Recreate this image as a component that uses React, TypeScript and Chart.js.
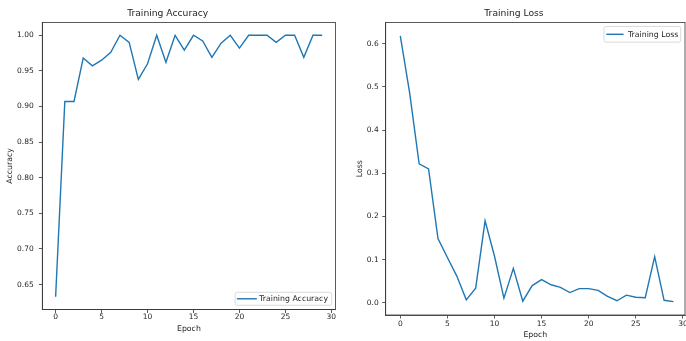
import React, { useEffect, useRef } from "react";
import { Chart, registerables } from "chart.js";

Chart.register(...registerables);

// ---- data ----
const epochs = [0, 1, 2, 3, 4, 5, 6, 7, 8, 9, 10, 11, 12, 13, 14, 15, 16, 17, 18, 19, 20, 21, 22, 23, 24, 25, 26, 27, 28, 29];
const accuracy = [0.633, 0.907, 0.907, 0.968, 0.957, 0.965, 0.976, 1.0, 0.99, 0.938, 0.96, 1.0, 0.962, 1.0, 0.979, 1.0, 0.992, 0.969, 0.989, 1.0, 0.982, 1.0, 1.0, 1.0, 0.99, 1.0, 1.0, 0.969, 1.0, 1.0];
const loss = [0.618, 0.485, 0.322, 0.31, 0.149, 0.105, 0.062, 0.007, 0.034, 0.19, 0.108, 0.011, 0.08, 0.004, 0.04, 0.054, 0.042, 0.036, 0.024, 0.033, 0.033, 0.029, 0.015, 0.005, 0.018, 0.013, 0.012, 0.107, 0.006, 0.003];
const epochTicks = [0, 5, 10, 15, 20, 25, 30];
const accuracyTicks = [0.65, 0.7, 0.75, 0.8, 0.85, 0.9, 0.95, 1.0];
const lossTicks = [0.0, 0.1, 0.2, 0.3, 0.4, 0.5, 0.6];

const FONT = "'DejaVu Sans', sans-serif";
const LINE_COLOR = "#1f77b4";
const TEXT_COLOR = "#262626";
const AXIS_COLOR = "#333333";

const framePlugin = {
  id: "frame",
  afterDraw(chart: any) {
    const { ctx, chartArea } = chart;
    ctx.save();
    ctx.strokeStyle = AXIS_COLOR;
    ctx.lineWidth = 0.8;
    ctx.strokeRect(chartArea.left, chartArea.top, chartArea.right - chartArea.left, chartArea.bottom - chartArea.top);
    ctx.restore();
  },
};

const boxLegendPlugin = {
  id: "boxLegend",
  afterDatasetsDraw(chart: any, _args: any, opts: any) {
    const { ctx, chartArea } = chart;
    const ds = chart.data.datasets[0];
    ctx.save();
    ctx.font = `${opts.fontSize}px ${FONT}`;
    const tw = ctx.measureText(ds.label).width;
    const w = opts.padL + opts.lineLen + opts.gap + tw + opts.padR;
    const h = opts.height;
    const x = chartArea.right - opts.marginX - w;
    const y = opts.corner === "lower" ? chartArea.bottom - opts.marginY - h : chartArea.top + opts.marginY;
    ctx.beginPath();
    if ((ctx as any).roundRect) (ctx as any).roundRect(x, y, w, h, 2);
    else ctx.rect(x, y, w, h);
    ctx.fillStyle = "rgba(255,255,255,0.8)";
    ctx.fill();
    ctx.strokeStyle = "#d0d0d0";
    ctx.lineWidth = 0.8;
    ctx.stroke();
    ctx.beginPath();
    ctx.strokeStyle = ds.borderColor;
    ctx.lineWidth = 1.4;
    ctx.moveTo(x + opts.padL, y + h / 2);
    ctx.lineTo(x + opts.padL + opts.lineLen, y + h / 2);
    ctx.stroke();
    ctx.fillStyle = TEXT_COLOR;
    ctx.textBaseline = "middle";
    ctx.textAlign = "left";
    ctx.fillText(ds.label, x + opts.padL + opts.lineLen + opts.gap, y + h / 2 + 0.5);
    ctx.restore();
  },
};

type Cfg = {
  title: string;
  yLabel: string;
  label: string;
  values: number[];
  yTicks: number[];
  decimals: number;
  yMin: number;
  yMax: number;
  xMin: number;
  xMax: number;
  yWidth: number;
  xHeight: number;
  rightPad: number;
  yTickPad: number;
  xTickPad: number;
  yTitlePad: number;
  xTitlePad: number;
  legend: any;
};

function makeConfig(c: Cfg): any {
  return {
    type: "line",
    data: {
      datasets: [
        {
          label: c.label,
          data: epochs.map((e, i) => ({ x: e, y: c.values[i] })),
          borderColor: LINE_COLOR,
          backgroundColor: LINE_COLOR,
          borderWidth: 1.4,
          pointRadius: 0,
          tension: 0,
          fill: false,
        },
      ],
    },
    options: {
      responsive: false,
      animation: false,
      layout: { padding: { left: 0, right: c.rightPad, top: 0, bottom: 0 } },
      plugins: {
        legend: { display: false },
        tooltip: { enabled: false },
        title: {
          display: true,
          text: c.title,
          color: TEXT_COLOR,
          font: { family: FONT, size: 9.2, weight: "normal", lineHeight: 1.2 },
          padding: { top: 8, bottom: 3.4 },
        },
        boxLegend: c.legend,
      },
      scales: {
        x: {
          type: "linear",
          min: c.xMin,
          max: c.xMax,
          afterBuildTicks: (s: any) => {
            s.ticks = epochTicks.map((v) => ({ value: v }));
          },
          afterFit: (s: any) => {
            s.height = c.xHeight;
            s.paddingLeft = 0;
            s.paddingRight = 0;
          },
          ticks: {
            color: TEXT_COLOR,
            font: { family: FONT, size: 7.5 },
            padding: c.xTickPad,
            maxRotation: 0,
            autoSkip: false,
            callback: (v: any) => String(v),
          },
          grid: { drawOnChartArea: false, drawTicks: true, tickLength: 3.5, color: AXIS_COLOR, lineWidth: 0.8 },
          border: { display: true, color: AXIS_COLOR, width: 0.8 },
          title: {
            display: true,
            text: "Epoch",
            color: TEXT_COLOR,
            font: { family: FONT, size: 7.8 },
            padding: { top: 0, bottom: c.xTitlePad },
          },
        },
        y: {
          type: "linear",
          min: c.yMin,
          max: c.yMax,
          afterBuildTicks: (s: any) => {
            s.ticks = c.yTicks.map((v) => ({ value: v }));
          },
          afterFit: (s: any) => {
            s.width = c.yWidth;
            s.paddingTop = 0;
            s.paddingBottom = 0;
          },
          ticks: {
            color: TEXT_COLOR,
            font: { family: FONT, size: 7.5 },
            padding: c.yTickPad,
            autoSkip: false,
            callback: (v: any) => Number(v).toFixed(c.decimals),
          },
          grid: { drawOnChartArea: false, drawTicks: true, tickLength: 3.5, color: AXIS_COLOR, lineWidth: 0.8 },
          border: { display: true, color: AXIS_COLOR, width: 0.8 },
          title: {
            display: true,
            text: c.yLabel,
            color: TEXT_COLOR,
            font: { family: FONT, size: 7.8 },
            padding: { top: c.yTitlePad, bottom: 0 },
          },
        },
      },
    },
    plugins: [framePlugin, boxLegendPlugin],
  };
}

function ChartBox({ cfg, left }: { cfg: Cfg; left: number }) {
  const ref = useRef<HTMLCanvasElement | null>(null);
  useEffect(() => {
    if (!ref.current) return;
    const chart = new Chart(ref.current, makeConfig(cfg));
    return () => chart.destroy();
  }, []);
  return (
    <canvas
      ref={ref}
      width={343}
      height={341}
      style={{ position: "absolute", left, top: 0, width: 343, height: 341 }}
    />
  );
}

const accCfg: Cfg = {
  title: "Training Accuracy",
  yLabel: "Accuracy",
  label: "Training Accuracy",
  values: accuracy,
  yTicks: accuracyTicks,
  decimals: 2,
  yMin: 0.615,
  yMax: 1.018,
  xMin: -1.45,
  xMax: 30.45,
  yWidth: 42.3,
  xHeight: 31.5,
  rightPad: 7.5,
  yTickPad: 5,
  xTickPad: 0,
  yTitlePad: 5.5,
  xTitlePad: 7.5,
  legend: { corner: "lower", fontSize: 7.8, padL: 1.7, lineLen: 20, gap: 2.3, padR: 3.7, height: 13, marginX: 3.8, marginY: 4.2 },
};

const lossCfg: Cfg = {
  title: "Training Loss",
  yLabel: "Loss",
  label: "Training Loss",
  values: loss,
  yTicks: lossTicks,
  decimals: 1,
  yMin: -0.028,
  yMax: 0.649,
  xMin: -1.55,
  xMax: 30.22,
  yWidth: 42.7,
  xHeight: 26,
  rightPad: 1,
  yTickPad: 3.5,
  xTickPad: 1,
  yTitlePad: 12.2,
  xTitlePad: 1.5,
  legend: { corner: "upper", fontSize: 7.8, padL: 2.3, lineLen: 17.3, gap: 4.4, padR: 2.4, height: 15.7, marginX: 4.3, marginY: 4 },
};

export default function App() {
  return (
    <div style={{ position: "fixed", left: 0, top: 0, width: 686, height: 341, background: "#ffffff", overflow: "hidden" }}>
      <ChartBox cfg={accCfg} left={0} />
      <ChartBox cfg={lossCfg} left={343} />
    </div>
  );
}
